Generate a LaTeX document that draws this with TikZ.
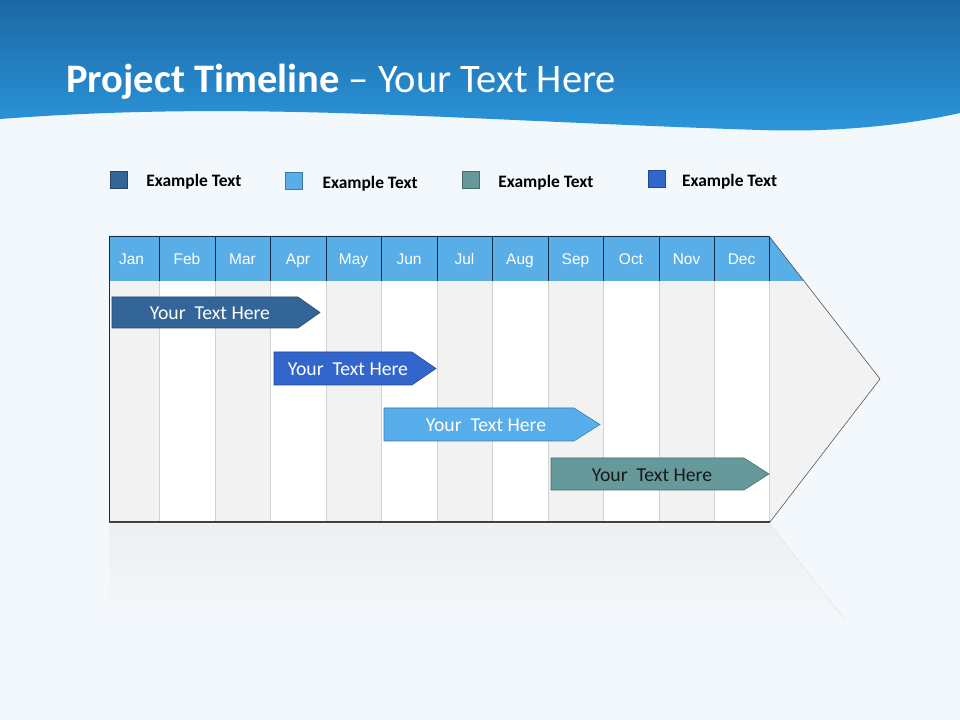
\documentclass[tikz,border=0pt]{standalone}
\usepackage{fontspec}
\setmainfont{Carlito}
\newfontfamily\arialfont{Liberation Sans}
\usepackage{tikz}
\usetikzlibrary{calc, positioning}
\definecolor{PageBg}{RGB}{243, 248, 252}
\definecolor{BannerTop}{RGB}{28, 104, 164}
\definecolor{BannerLow}{RGB}{44, 150, 220}
\definecolor{HeadBlue}{RGB}{90, 174, 232}
\definecolor{ColGrey}{RGB}{242, 242, 242}
\definecolor{RuleGrey}{RGB}{208, 210, 212}
\definecolor{NavyLine}{RGB}{20, 45, 70}
\definecolor{SteelBlue}{RGB}{52, 101, 153}
\definecolor{RoyalBlue}{RGB}{51, 102, 204}
\definecolor{SkyBlue}{RGB}{88, 174, 234}
\definecolor{SeaTeal}{RGB}{102, 153, 153}

\tikzset{
  month/.style={text=white, inner sep=0pt, text height=8pt, text depth=2.5pt,
    font=\arialfont\fontsize{11pt}{13pt}\selectfont},
  legbox/.style={draw=#1!70!black, fill=#1, minimum size=17*0.025cm, inner sep=0pt},
  legtext/.style={font=\bfseries\fontsize{12.4pt}{14pt}\selectfont, inner sep=0pt, anchor=west, yshift=-0.06cm},
  bartext/.style={font=\fontsize{14pt}{16pt}\selectfont, text=white},
}

\begin{document}
\begin{tikzpicture}[x=0.025cm, y=-0.025cm]
    \useasboundingbox (0,0) rectangle (960,720);
    \fill[PageBg] (0,0) rectangle (960,720);
    % banner with wavy lower edge
    \shade[top color=BannerTop, bottom color=BannerLow]
        (0,0) -- (960,0) -- (960,113)
        .. controls (920,122) and (850,133) .. (760,130)
        .. controls (450,120) and (250,100) .. (0,119) -- cycle;
    \node[anchor=base west, text=white, inner sep=0pt, font=\fontsize{28.8pt}{32pt}\selectfont] (title) at (66,93)
        {\textbf{Project Timeline} -- Your Text Here};

    % legend
    \node[legbox=SteelBlue] (sq1) at (118.5,179.5) {};
    \node[legbox=SkyBlue] (sq2) at (293.5,181) {};
    \node[legbox=SeaTeal] (sq3) at (470.5,180) {};
    \node[legbox=RoyalBlue] (sq4) at (657,179) {};
    \node[legtext, right=0.47cm of sq1] (lt1) {Example Text};
    \node[legtext, right=0.5cm of sq2] (lt2) {Example Text};
    \node[legtext, right=0.47cm of sq3] (lt3) {Example Text};
    \node[legtext, right=0.4cm of sq4] (lt4) {Example Text};

    % reflection
    \shade[top color=RuleGrey!22!PageBg, bottom color=PageBg]
        (109,524) -- (770,524) -- (845,620) -- (109,620) -- cycle;
    \draw[RuleGrey!45!PageBg] (770,524) -- (845,620);

    % arrow body and columns
    \fill[ColGrey] (769,236) -- (880,379) -- (769,522) -- cycle;
    \foreach \xa/\xb/\shade in {109/159/ColGrey, 159/215/white, 215/270/ColGrey, 270/326/white,
        326/381/ColGrey, 381/437/white, 437/492/ColGrey, 492/548/white,
        548/603/ColGrey, 603/659/white, 659/714/ColGrey, 714/769/white}
        \fill[\shade] (\xa,281) rectangle (\xb,522);
    \foreach \xa in {159,215,270,326,381,437,492,548,603,659,714,769}
        \draw[RuleGrey] (\xa,281) -- (\xa,522);
    \fill[HeadBlue] (109,236) -- (769,236) -- (804,281) -- (109,281) -- cycle;
    \foreach \xa in {159,215,270,326,381,437,492,548,603,659,714,769}
        \draw[NavyLine] (\xa,236) -- (\xa,281);
    \draw[NavyLine] (109,522) -- (109,236) -- (769,236);
    \draw[black!75, thick] (109,522) -- (770,522);
    \draw[black!70] (769,236) -- (880,379) -- (770,522);

    % month labels
    \foreach \mname/\xc [count=\i] in {Jan/131.5, Feb/187, Mar/242.5, Apr/298, May/353.5, Jun/409,
        Jul/464.5, Aug/520, Sep/575.5, Oct/631, Nov/686.5, Dec/741.5}
        \node[month] (m\i) at (\xc,261) {\mname};

    % task bars
    \filldraw[fill=SteelBlue, draw=SteelBlue!70!black] (112,297) -- (298,297) -- (320,312.5) -- (298,328) -- (112,328) -- cycle;
    \node[bartext] (t1) at (210,313) {Your\ \ Text Here};
    \filldraw[fill=RoyalBlue, draw=RoyalBlue!70!black] (274,352) -- (412,352) -- (436,368.5) -- (412,385) -- (274,385) -- cycle;
    \node[bartext] (t2) at (348,369.5) {Your\ \ Text Here};
    \filldraw[fill=SkyBlue, draw=SkyBlue!70!black] (384,408) -- (574,408) -- (600,424.5) -- (574,441) -- (384,441) -- cycle;
    \node[bartext] (t3) at (486,425.5) {Your\ \ Text Here};
    \filldraw[fill=SeaTeal, draw=SeaTeal!70!black] (551,458) -- (744,458) -- (769,474) -- (744,490) -- (551,490) -- cycle;
    \node[bartext, text=black!90] (t4) at (652,475) {Your\ \ Text Here};
\end{tikzpicture}
\end{document}
